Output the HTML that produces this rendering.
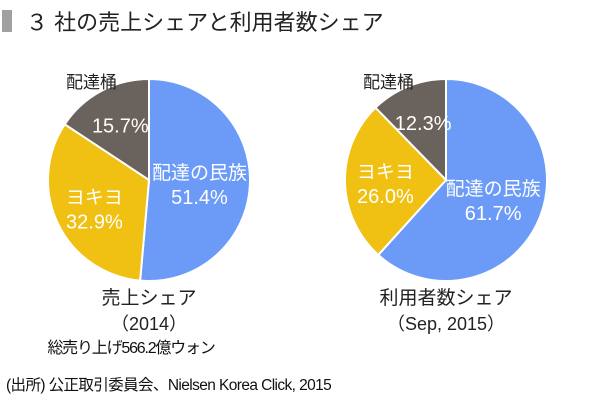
<!DOCTYPE html>
<html><head><meta charset="utf-8"><style>
body{margin:0;background:#fff;width:600px;height:402px;overflow:hidden;font-family:"Liberation Sans","Noto Sans CJK JP",sans-serif;}
svg text{font-family:"Liberation Sans","Noto Sans CJK JP",sans-serif;}
</style></head><body>
<svg id="c" width="600" height="402">
<rect x="2" y="10" width="10" height="22" fill="#a0a0a0"/>
<text x="26" y="30" font-size="22" fill="#222">３ 社の売上シェアと利用者数シェア</text>
<g id="p1"></g><g id="p2"></g>
<text x="149" y="304" font-size="19" fill="#222" text-anchor="middle">売上シェア</text>
<text x="149" y="330" font-size="18" fill="#222" text-anchor="middle">（2014）</text>
<text x="131" y="353" font-size="16" fill="#111" text-anchor="middle" letter-spacing="-1.2">総売り上げ566.2億ウォン</text>
<text x="446" y="304" font-size="19" fill="#222" text-anchor="middle">利用者数シェア</text>
<text x="446" y="330" font-size="18" fill="#222" text-anchor="middle">（Sep, 2015）</text>
<text x="6" y="390" font-size="15.5" fill="#111" letter-spacing="-0.6">(出所) 公正取引委員会、Nielsen Korea Click, 2015</text>
</svg>
<script>
const categories=["配達の民族","ヨキヨ","配達桶"];
const sales2014=[51.4,32.9,15.7];
const users2015=[61.7,26.0,12.3];
const colors=["#6b9bf7","#f0c012","#6a625d"];
const NS="http://www.w3.org/2000/svg";
function mk(t,a){const e=document.createElementNS(NS,t);for(const k in a)e.setAttribute(k,a[k]);return e;}
function pie(gid,cx,cy,r,vals,key){
  const g=document.getElementById(gid);
  const tot=vals.reduce((a,b)=>a+b,0);
  let a0=0;
  vals.forEach((v,i)=>{
    const a1=a0+v/tot*2*Math.PI;
    const x0=cx+r*Math.sin(a0),y0=cy-r*Math.cos(a0),x1=cx+r*Math.sin(a1),y1=cy-r*Math.cos(a1);
    const large=(a1-a0)>Math.PI?1:0;
    const p=mk("path",{d:`M${cx},${cy}L${x0},${y0}A${r},${r} 0 ${large} 1 ${x1},${y1}Z`,fill:colors[i],stroke:"#fff","stroke-width":2});
    
    
    g.appendChild(p);
    const m=(a0+a1)/2;
    const lr=i===0?r*0.5:r*0.6;
    const lx=cx+lr*Math.sin(m),ly=cy-lr*Math.cos(m);
    if(i<2){
      const t1=mk("text",{x:lx,y:ly-3,"font-size":19,fill:"#fff","text-anchor":"middle"});
      t1.textContent=categories[i];
      
      
      g.appendChild(t1);
      const t2=mk("text",{x:lx,y:ly+22,"font-size":20,fill:"#fff","text-anchor":"middle"});
      t2.textContent=v.toFixed(1)+"%";
      
      
      g.appendChild(t2);
    } else {
      const t2=mk("text",{x:lx,y:ly+6,"font-size":20,fill:"#fff","text-anchor":"middle"});
      t2.textContent=v.toFixed(1)+"%";
      
      
      g.appendChild(t2);
      const t1=mk("text",{x:cx-83,y:cy-92,"font-size":17,fill:"#222"});
      t1.textContent=categories[i];
      
      
      g.appendChild(t1);
    }
    a0=a1;
  });
}
pie("p1",149,180,101,sales2014,"sales");
pie("p2",446,180,101,users2015,"users");
</script>
</body></html>
